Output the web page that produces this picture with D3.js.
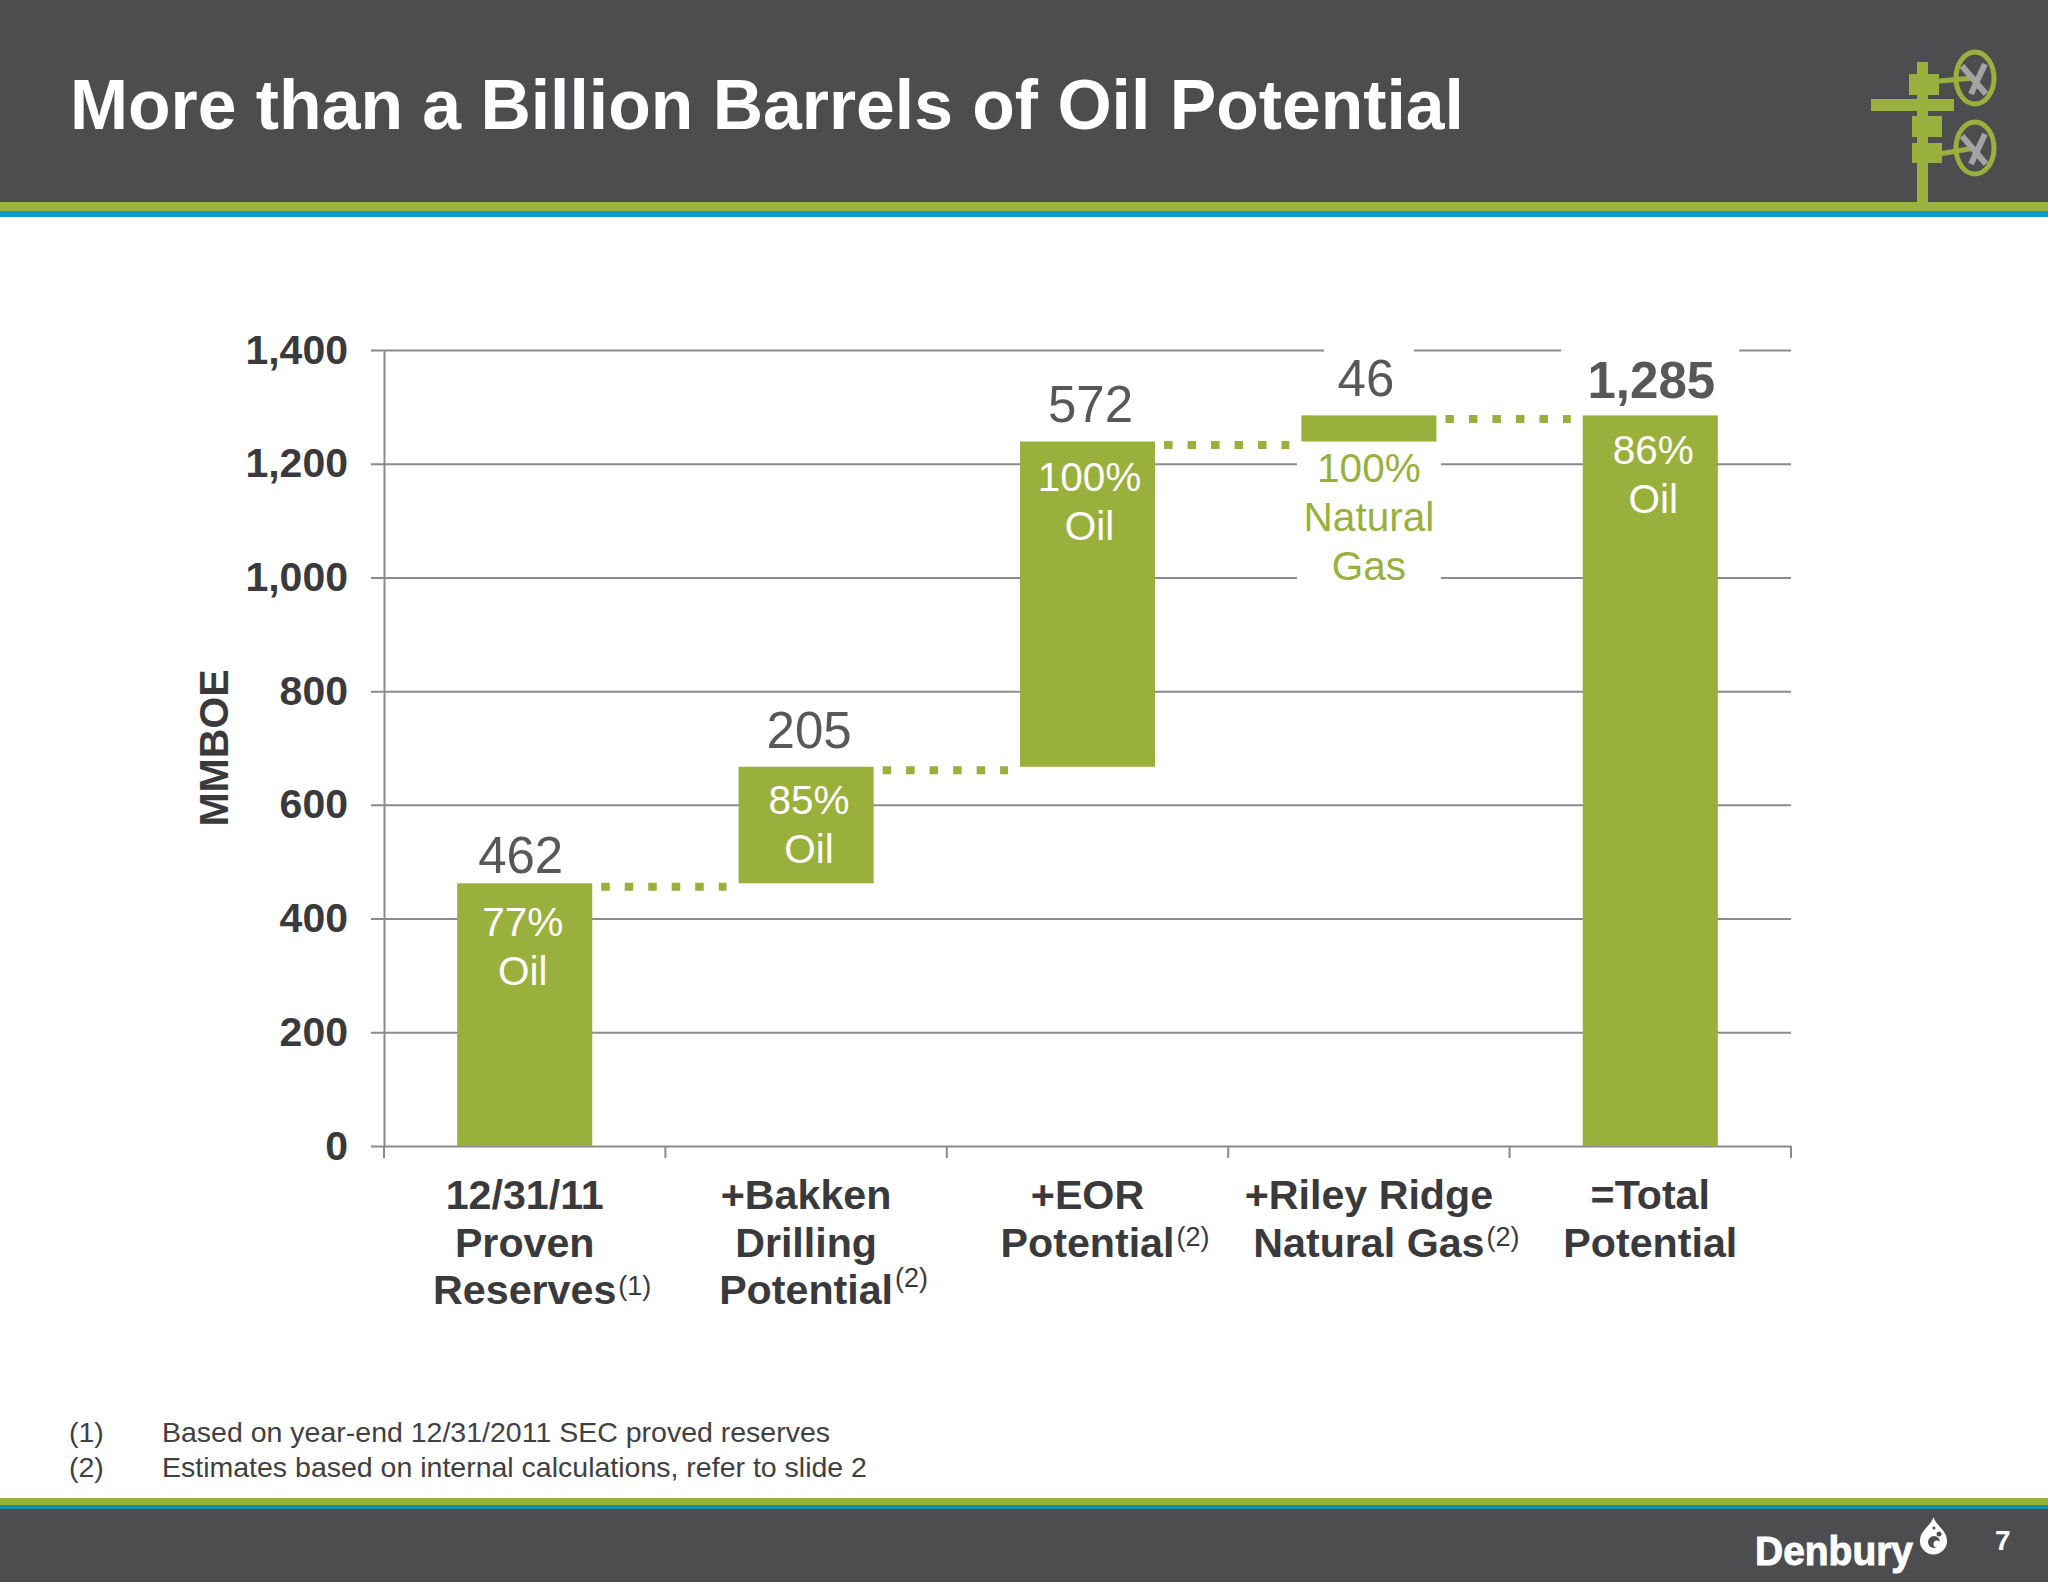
<!DOCTYPE html>
<html>
<head>
<meta charset="utf-8">
<title>More than a Billion Barrels of Oil Potential</title>
<script src="https://cdn.jsdelivr.net/npm/d3@7"></script>
<style>
    html, body { margin: 0; padding: 0; background: #fff; }
    svg { display: block; }
    text { font-family: "Liberation Sans", Arial, sans-serif; }
</style>
</head>
<body>
<div id="chart"></div>
<script>
// chart data
const categories = ["proven", "bakken", "eor", "riley", "total"];
const categoryLines = [
    ["12/31/11", "Proven", "Reserves"],
    ["+Bakken", "Drilling", "Potential"],
    ["+EOR", "Potential"],
    ["+Riley Ridge", "Natural Gas"],
    ["=Total", "Potential"]
];
const categoryNotes = ["(1)", "(2)", "(2)", "(2)", ""];
const increments = [462, 205, 572, 46];
const totalValue = 1285;
const shareLines = [
    ["77%", "Oil"],
    ["85%", "Oil"],
    ["100%", "Oil"],
    ["100%", "Natural", "Gas"],
    ["86%", "Oil"]
];
const yTicks = [0, 200, 400, 600, 800, 1000, 1200, 1400];
const footnotes = [
    ["(1)", "Based on year-end 12/31/2011 SEC proved reserves"],
    ["(2)", "Estimates based on internal calculations, refer to slide 2"]
];

// layout tweaks for the labels, in pixels
const valueLabelLift = [10, 19, 20, 19, 17];
const valueLabelShift = [-4, 3, 3, -3, 1];
const shareLabelDrop = [53, 47, 49, 40.5, 49];
const shareLabelShift = [-2, 3, 2, 0, 3];
const noteLift = [9, 17, 11, 11, 0];

const width = 2048;
const height = 1582;
const green = "#99b03d";
const dark = "#4d4d4f";
const gridColor = "#8b8b8d";
const labelColor = "#3a3a3c";

const svg = d3.select("#chart")
    .append("svg")
    .attr("width", width)
    .attr("height", height);

const plot = { left: 384, right: 1791, top: 350, bottom: 1146 };

const x = d3.scaleBand()
    .domain(categories)
    .range([plot.left, plot.right])
    .paddingInner(0.52)
    .paddingOuter(0.26);

const y = d3.scaleLinear()
    .domain([0, 1400])
    .range([plot.bottom, plot.top]);

// waterfall segments, the last one is the total from zero
const tops = Array.from(d3.cumsum(increments));
const bars = categories.map((c, i) => {
    if (i === increments.length) return { c, i, from: 0, to: totalValue, value: totalValue };
    return { c, i, from: tops[i] - increments[i], to: tops[i], value: increments[i] };
});

// header and footer bands
svg.append("rect").attr("width", width).attr("height", 202).attr("fill", dark);
svg.append("rect").attr("y", 202).attr("width", width).attr("height", 9).attr("fill", "#9ab13f");
svg.append("rect").attr("y", 211).attr("width", width).attr("height", 6).attr("fill", "#0b9ad2");
svg.append("rect").attr("y", 1498).attr("width", width).attr("height", 7).attr("fill", "#9ab13f");
svg.append("rect").attr("y", 1505).attr("width", width).attr("height", 4).attr("fill", "#1a8aa8");
svg.append("rect").attr("y", 1509).attr("width", width).attr("height", 73).attr("fill", dark);

svg.append("text")
    .attr("x", 70)
    .attr("y", 129)
    .attr("fill", "#fff")
    .attr("font-size", 69.7)
    .attr("font-weight", "bold")
    .text("More than a Billion Barrels of Oil Potential");

// well head icon
const icon = svg.append("g").attr("fill", green);
icon.append("rect").attr("x", 1917).attr("y", 62).attr("width", 11).attr("height", 142);
icon.append("rect").attr("x", 1909).attr("y", 74).attr("width", 30).attr("height", 21);
icon.append("rect").attr("x", 1871).attr("y", 99).attr("width", 83).attr("height", 12);
icon.append("rect").attr("x", 1912).attr("y", 116).attr("width", 30).attr("height", 21);
icon.append("rect").attr("x", 1912).attr("y", 143).attr("width", 30).attr("height", 20);
[[78, 81], [148, 154]].forEach(([cy, armY]) => {
    icon.append("line")
        .attr("x1", 1939).attr("y1", armY).attr("x2", 1975).attr("y2", cy)
        .attr("stroke", green).attr("stroke-width", 5);
    icon.append("path")
        .attr("d", `M1962 ${cy - 12}L1986 ${cy + 16}M1985 ${cy - 14}L1971 ${cy + 16}`)
        .attr("stroke", "#a3a3a3").attr("stroke-width", 6).attr("fill", "none");
    icon.append("ellipse")
        .attr("cx", 1975).attr("cy", cy).attr("rx", 19).attr("ry", 26)
        .attr("fill", "none").attr("stroke", green).attr("stroke-width", 5);
});

// y axis with grid lines
const yAxis = d3.axisLeft(y)
    .tickValues(yTicks)
    .tickSizeInner(-(plot.right - plot.left))
    .tickSizeOuter(0)
    .tickPadding(36)
    .tickFormat(d3.format(","));

const yG = svg.append("g")
    .attr("transform", `translate(${plot.left},0)`)
    .call(yAxis);
yG.select(".domain").attr("stroke", gridColor).attr("stroke-width", 2);
yG.selectAll(".tick line")
    .attr("x1", -13)
    .attr("stroke", gridColor)
    .attr("stroke-width", 2);
yG.selectAll(".tick text")
    .attr("fill", labelColor)
    .attr("font-size", 41)
    .attr("font-weight", "bold")
    .attr("font-family", "Liberation Sans");

// x axis ticks sit on the band edges
const edgeGap = (x.step() - x.bandwidth()) / 2;
const edges = categories.map(c => x(c) - edgeGap).concat(plot.right);
svg.append("g").selectAll("line")
    .data(edges)
    .enter()
    .append("line")
    .attr("x1", d => d)
    .attr("x2", d => d)
    .attr("y1", plot.bottom)
    .attr("y2", plot.bottom + 12)
    .attr("stroke", gridColor)
    .attr("stroke-width", 2);

// white boxes that break the grid behind the upper labels
const masks = [
    { c: "riley", half: 45, y: 338, h: 24 },
    { c: "total", half: 89, y: 338, h: 24 },
    { c: "riley", half: 72, y: 446, h: 145 }
];
svg.append("g").selectAll("rect")
    .data(masks)
    .enter()
    .append("rect")
    .attr("x", d => x(d.c) + x.bandwidth() / 2 - d.half)
    .attr("y", d => d.y)
    .attr("width", d => d.half * 2)
    .attr("height", d => d.h)
    .attr("fill", "#fff");

// bars
svg.append("g").selectAll("rect")
    .data(bars)
    .enter()
    .append("rect")
    .attr("x", d => x(d.c))
    .attr("y", d => y(d.to))
    .attr("width", x.bandwidth())
    .attr("height", d => y(d.from) - y(d.to))
    .attr("fill", green);

// dotted connectors between the bars
svg.append("g").selectAll("line")
    .data(bars.slice(0, -1))
    .enter()
    .append("line")
    .attr("x1", d => x(d.c) + x.bandwidth() + 9)
    .attr("x2", d => x(categories[d.i + 1]) - 12)
    .attr("y1", d => y(d.to) + 3.5)
    .attr("y2", d => y(d.to) + 3.5)
    .attr("stroke", green)
    .attr("stroke-width", 8)
    .attr("stroke-dasharray", "8.5 15");

// value labels
svg.append("g").selectAll("text")
    .data(bars)
    .enter()
    .append("text")
    .attr("x", d => x(d.c) + x.bandwidth() / 2 + valueLabelShift[d.i])
    .attr("y", d => y(d.to) - valueLabelLift[d.i])
    .attr("text-anchor", "middle")
    .attr("fill", "#58585a")
    .attr("font-size", 51)
    .attr("font-weight", d => d.c === "total" ? "bold" : "normal")
    .text(d => d3.format(",")(d.value));

// share labels, inside the bars except for the thin one
bars.forEach(d => {
    const inside = d.c !== "riley";
    const start = inside ? y(d.to) : y(d.from);
    shareLines[d.i].forEach((line, j) => {
        svg.append("text")
            .attr("x", x(d.c) + x.bandwidth() / 2 + shareLabelShift[d.i])
            .attr("y", start + shareLabelDrop[d.i] + j * 49)
            .attr("text-anchor", "middle")
            .attr("fill", inside ? "#fff" : green)
            .attr("font-size", 40.5)
            .text(line);
    });
});

// category labels with the note marker hanging off the last line
categories.forEach((c, i) => {
    const cx = x(c) + x.bandwidth() / 2;
    categoryLines[i].forEach((line, j) => {
        const label = svg.append("text")
            .attr("x", cx)
            .attr("y", 1209 + j * 47.5)
            .attr("text-anchor", "middle")
            .attr("fill", labelColor)
            .attr("font-size", 41.2)
            .attr("font-weight", "bold")
            .text(line);
        if (j === categoryLines[i].length - 1 && categoryNotes[i]) {
            svg.append("text")
                .attr("x", cx + label.node().getComputedTextLength() / 2 + 2)
                .attr("y", 1209 + j * 47.5 - noteLift[i])
                .attr("fill", labelColor)
                .attr("font-size", 27)
                .text(categoryNotes[i]);
        }
    });
});

// y axis title
svg.append("text")
    .attr("transform", "translate(228,748) rotate(-90)")
    .attr("text-anchor", "middle")
    .attr("fill", labelColor)
    .attr("font-size", 41)
    .attr("font-weight", "bold")
    .text("MMBOE");

// footnotes
footnotes.forEach((note, i) => {
    svg.append("text").attr("x", 69).attr("y", 1442 + i * 35)
        .attr("fill", "#404042").attr("font-size", 28.5).text(note[0]);
    svg.append("text").attr("x", 162).attr("y", 1442 + i * 35)
        .attr("fill", "#404042").attr("font-size", 28.5).text(note[1]);
});

// footer logo and page number
svg.append("text")
    .attr("x", 1755)
    .attr("y", 1565)
    .attr("fill", "#fff")
    .attr("stroke", "#fff")
    .attr("stroke-width", 1)
    .attr("font-size", 41)
    .attr("font-weight", "bold")
    .attr("textLength", 158)
    .attr("lengthAdjust", "spacingAndGlyphs")
    .text("Denbury");
svg.append("path")
    .attr("d", "M1933.5 1517C1931 1526 1920 1530 1920 1541A13.5 13.5 0 0 0 1947 1541C1947 1530 1936 1526 1933.5 1517Z")
    .attr("fill", "#fff");
svg.append("circle").attr("cx", 1934).attr("cy", 1542).attr("r", 6).attr("fill", dark);
svg.append("circle").attr("cx", 1937).attr("cy", 1544).attr("r", 3.5).attr("fill", "#fff");
svg.append("circle").attr("cx", 1939).attr("cy", 1534).attr("r", 2.5).attr("fill", dark);
svg.append("circle").attr("cx", 1934).attr("cy", 1528).attr("r", 1.5).attr("fill", dark);
svg.append("text")
    .attr("x", 1995)
    .attr("y", 1550)
    .attr("fill", "#fff")
    .attr("font-size", 28)
    .attr("font-weight", "bold")
    .text("7");
</script>
</body>
</html>
